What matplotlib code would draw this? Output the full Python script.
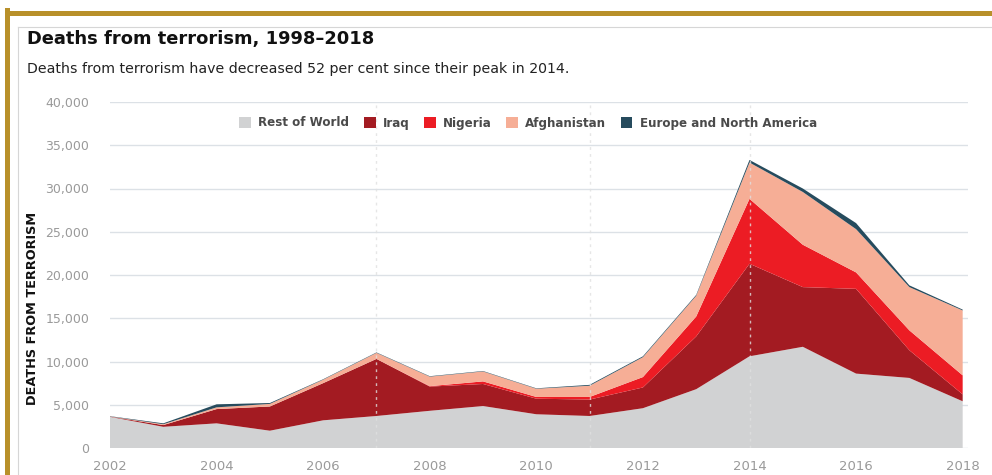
import numpy as np
import matplotlib
matplotlib.use("Agg")
import matplotlib.pyplot as plt
from matplotlib.patches import Patch
from matplotlib.lines import Line2D

# dados (mortes por ano)
anos = list(range(2002, 2019))
resto_mundo = [3600, 2450, 2850, 2000, 3200, 3700, 4300, 4850, 3900, 3700, 4600, 6800, 10600, 11700, 8600, 8100, 5400]
iraque      = [30, 200, 1650, 2800, 4300, 6600, 2800, 2550, 1800, 1900, 2400, 6100, 10700, 6900, 9800, 3200, 800]
nigeria     = [0, 0, 0, 0, 0, 0, 50, 300, 200, 300, 1200, 2300, 7500, 4900, 1900, 2300, 2200]
afeganistao = [20, 100, 200, 300, 400, 700, 1100, 1150, 950, 1300, 2300, 2400, 4200, 6100, 5000, 5000, 7500]
europa_na   = [30, 100, 350, 100, 50, 50, 50, 50, 50, 100, 100, 100, 300, 400, 700, 200, 100]

series = ["Rest of World", "Iraq", "Nigeria", "Afghanistan", "Europe and North America"]
cores = ["#D1D2D3", "#A31B22", "#EC1C24", "#F6AE96", "#264B5D"]

yticks = [0, 5000, 10000, 15000, 20000, 25000, 30000, 35000, 40000]
xticks = list(range(2002, 2019, 2))
linhas_tracejadas = [2007, 2011, 2014]

W, H = 992, 475
fig = plt.figure(figsize=(W / 100, H / 100), dpi=100)

# moldura dourada e linha cinza interna
fig.add_artist(Line2D([7 / W, 7 / W], [0, 1 - 10 / H], color="#B8902A", lw=3.6, transform=fig.transFigure))
fig.add_artist(Line2D([7 / W, 1], [1 - 12.5 / H, 1 - 12.5 / H], color="#B8902A", lw=3.6, transform=fig.transFigure))
fig.add_artist(Line2D([18 / W, 18 / W], [0, 1 - 27 / H], color="#D6D6D6", lw=0.8, transform=fig.transFigure))
fig.add_artist(Line2D([18 / W, 1], [1 - 27 / H, 1 - 27 / H], color="#D6D6D6", lw=0.8, transform=fig.transFigure))

ax = fig.add_axes([110 / W, 27 / H, 858 / W, 346 / H])
ax.stackplot(anos, resto_mundo, iraque, nigeria, afeganistao, europa_na,
             colors=cores, linewidth=0, zorder=2)

ax.set_xlim(2002, 2018.1)
ax.set_ylim(0, 40000)
ax.set_yticks(yticks)
ax.set_yticklabels([f"{v:,}" for v in yticks])
ax.set_xticks(xticks)
ax.set_xticklabels([str(x) for x in xticks])

ax.grid(axis="y", color="#DCE1E6", lw=1, zorder=1)
for a in linhas_tracejadas:
    ax.axvline(a, color="#E0E0E0", lw=1, ls=(0, (2, 3)), alpha=0.8, zorder=3)

for s in ax.spines.values():
    s.set_visible(False)
ax.tick_params(axis="both", length=0, colors="#9A9A9A")
ax.tick_params(axis="y", pad=15, labelsize=9)
ax.tick_params(axis="x", pad=9, labelsize=9.5)

fig.text(27 / W, 1 - 39 / H, "Deaths from terrorism, 1998–2018", fontsize=12.9,
         fontweight="heavy", color="#111111", va="center", ha="left")
fig.text(27 / W, 1 - 69 / H, "Deaths from terrorism have decreased 52 per cent since their peak in 2014.",
         fontsize=10.2, color="#222222", va="center", ha="left")
fig.text(32.5 / W, 1 - 308 / H, "DEATHS FROM TERRORISM", rotation=90, fontsize=9.3,
         fontweight="bold", color="#111111", va="center", ha="center")

handles = [Patch(facecolor=c, edgecolor="none") for c in cores]
leg = fig.legend(handles, series, loc="center", bbox_to_anchor=(528 / W, 1 - 123 / H),
                 ncol=5, frameon=False, handlelength=1.0, handleheight=1.1,
                 handletextpad=0.6, columnspacing=1.2,
                 prop={"weight": "bold", "size": 8.6})
for t in leg.get_texts():
    t.set_color("#4A4A4A")

fig.savefig("out.png", dpi=100)
